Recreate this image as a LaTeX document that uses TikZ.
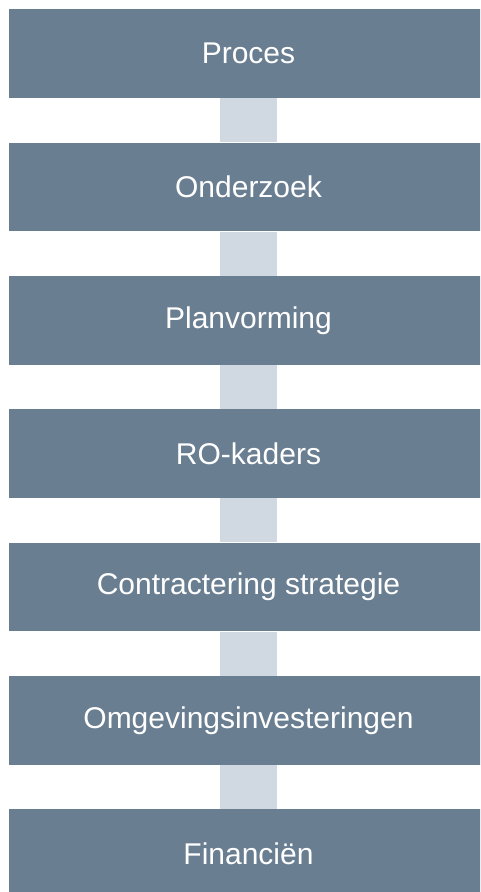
\documentclass[tikz,border=0pt]{standalone}
\usepackage{fontspec}
\setsansfont{Liberation Sans}
\usepackage{xcolor}
\usepackage{tikz}
\usetikzlibrary{positioning,backgrounds}
\definecolor{stepcol}{HTML}{6A7E92}
\definecolor{linkcol}{HTML}{D0D8E1}
\tikzset{
  stepbox/.style={
    rectangle, draw=none, fill=stepcol,
    minimum height=66.5pt, minimum width=359.25pt,
    inner sep=0pt, text=white,
    text centered, font=\fontsize{22.5}{26}\selectfont\sffamily,
  },
  link/.style={line width=42.75pt, draw=linkcol},
}

\begin{document}
\begin{tikzpicture}[x=0.75pt, y=-0.75pt, node distance=33.1pt]

\clip (0,0) rectangle (480,892);

% ===== Steps =====
\node[stepbox, anchor=north] (proces) at (248.5,9) {Proces};
\node[stepbox, below=of proces] (onderzoek) {Onderzoek};
\node[stepbox, below=of onderzoek] (plan) {Planvorming};
\node[stepbox, below=of plan] (ro) {RO-kaders};
\node[stepbox, below=of ro] (contract) {Contractering strategie};
\node[stepbox, below=of contract] (omgeving) {Omgevingsinvesteringen};
\node[stepbox, below=of omgeving] (financien) {Financiën};

% ===== Links =====
\begin{scope}[on background layer, xshift=-1.5pt]
  \draw[link] (proces.south) -- (onderzoek.north);
  \draw[link] (onderzoek.south) -- (plan.north);
  \draw[link] (plan.south) -- (ro.north);
  \draw[link] (ro.south) -- (contract.north);
  \draw[link] (contract.south) -- (omgeving.north);
  \draw[link] (omgeving.south) -- (financien.north);
\end{scope}

\end{tikzpicture}
\end{document}
